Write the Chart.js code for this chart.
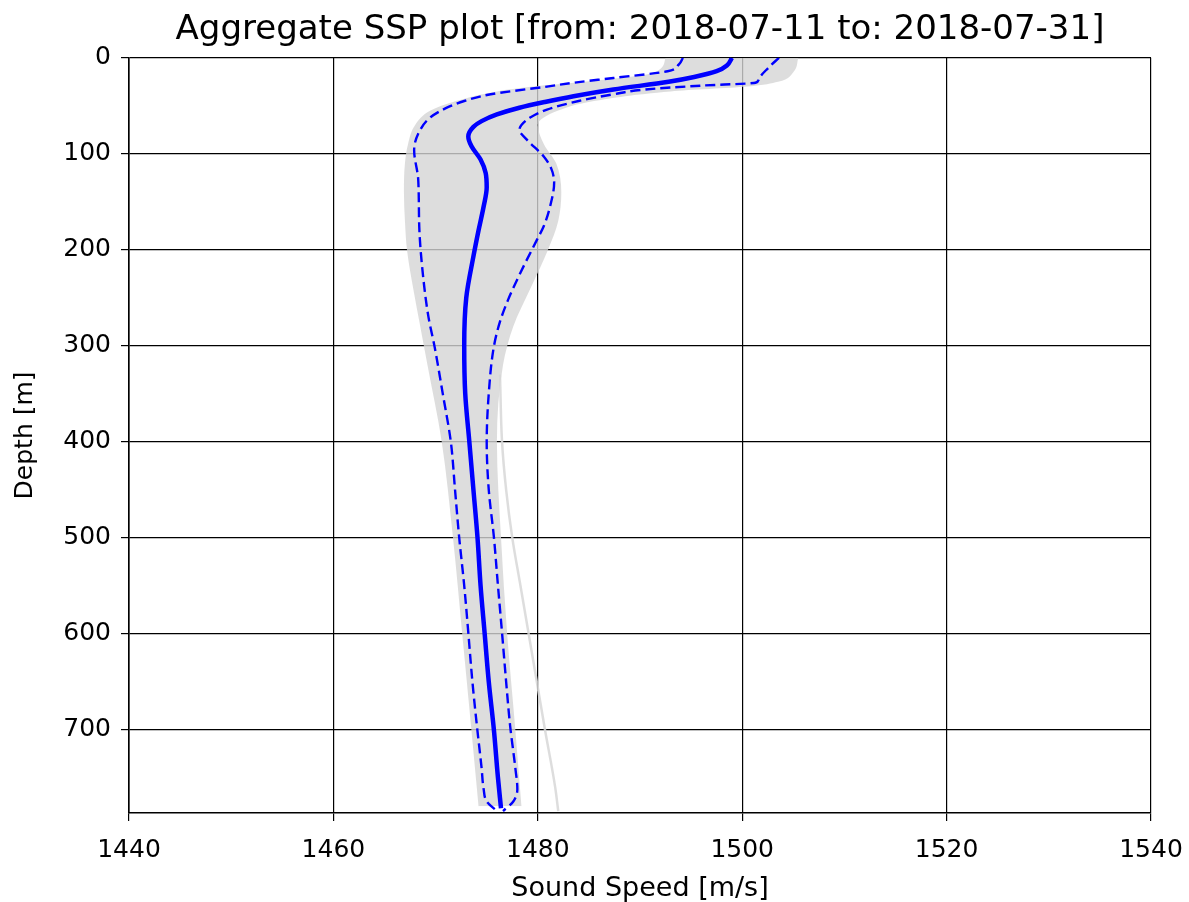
<!DOCTYPE html>
<html>
<head>
<meta charset="utf-8">
<script src="https://cdn.jsdelivr.net/npm/chart.js@4/dist/chart.umd.min.js"></script>
<style>
  html, body { margin: 0; padding: 0; background: #fff; }
  #wrap { width: 1189px; height: 902px; }
</style>
</head>
<body>
<div id="wrap"><canvas id="ssp"></canvas></div>
<script>
// Mean profile (solid)
const meanDepth = [0, 8, 14, 20, 25, 33, 40, 46, 52, 59, 66, 72, 82, 92, 106, 120, 135, 155, 180, 207, 250, 300, 350, 400, 450, 500, 550, 600, 650, 700, 750, 782];
const meanSpeed = [1499.0, 1498.5, 1497.5, 1495.3, 1492.8, 1487.4, 1483.5, 1480.7, 1478.2, 1476.0, 1474.5, 1473.7, 1473.2, 1473.5, 1474.4, 1474.9, 1475.0, 1474.7, 1474.2, 1473.7, 1473.0, 1472.8, 1472.9, 1473.3, 1473.7, 1474.1, 1474.4, 1474.8, 1475.2, 1475.7, 1476.1, 1476.4];

// Lower bound (dashed, left)
const lowDepth = [0, 7, 14, 21, 26, 30, 38, 45, 52, 62, 75, 96, 127, 176, 230, 270, 301, 350, 401, 450, 499, 550, 599, 650, 697, 740, 762, 775, 785];
const lowSpeed = [1494.2, 1493.8, 1492.7, 1487.4, 1483.5, 1480.9, 1475.4, 1472.8, 1471.1, 1469.5, 1468.5, 1467.9, 1468.3, 1468.4, 1468.8, 1469.3, 1469.9, 1470.7, 1471.5, 1471.9, 1472.3, 1472.8, 1473.2, 1473.6, 1474.05, 1474.5, 1474.7, 1475.0, 1476.0];

// Upper bound (dashed, right)
const highDepth = [0, 10, 23, 26, 29, 33, 38, 45, 54, 62, 70, 75, 85, 103, 115, 130, 155, 175, 190, 224, 252, 275, 301, 350, 401, 450, 499, 550, 599, 650, 697, 740, 762, 775, 785];
const highSpeed = [1503.6, 1502.6, 1501.6, 1501.3, 1496.0, 1490.5, 1487.4, 1484.0, 1480.9, 1479.3, 1478.4, 1478.2, 1478.9, 1480.6, 1481.3, 1481.6, 1481.2, 1480.6, 1479.9, 1478.3, 1477.1, 1476.3, 1475.7, 1475.2, 1475.0, 1475.2, 1475.7, 1476.1, 1476.5, 1476.9, 1477.3, 1477.8, 1478.0, 1477.6, 1476.6];

// Envelope of all casts (gray band)
const envDepth = [0, 15, 25, 30, 35, 45, 55, 70, 90, 110, 140, 170, 200, 240, 280, 320, 400, 500, 600, 700, 780];
const envMin = [1492.5, 1491.5, 1484.5, 1479.5, 1476.0, 1472.0, 1469.5, 1468.0, 1467.3, 1467.0, 1466.9, 1467.0, 1467.2, 1467.8, 1468.5, 1469.2, 1470.6, 1471.7, 1472.6, 1473.5, 1474.2];
const envMax = [1505.5, 1505.0, 1503.5, 1500.5, 1493.0, 1485.5, 1482.0, 1480.0, 1480.6, 1481.8, 1482.3, 1482.0, 1481.0, 1479.3, 1477.6, 1476.6, 1476.0, 1476.4, 1477.0, 1477.8, 1478.4];

// Outlier cast visible below the band
const outDepth = [330, 400, 450, 500, 550, 600, 650, 700, 760, 785];
const outSpeed = [1476.3, 1476.5, 1476.9, 1477.5, 1478.3, 1479.1, 1479.9, 1480.7, 1481.7, 1482.0];

// Axis ticks
const speedTicks = [1440, 1460, 1480, 1500, 1520, 1540];
const depthTicks = [0, 100, 200, 300, 400, 500, 600, 700];

const pts = (speeds, depths) => depths.map((d, i) => ({ x: speeds[i], y: d }));

const FONT = 'DejaVu Sans';

// keep the title centred over the plot area, like matplotlib does
const centerTitle = {
    id: 'centerTitle',
    afterLayout(chart) {
        const t = chart.titleBlock;
        if (!t) return;
        t.left = chart.chartArea.left;
        t.right = chart.chartArea.right;
        t.width = t.right - t.left;
    }
};

function profile(label, speeds, depths, extra) {
    return Object.assign({
        label: label,
        data: pts(speeds, depths),
        fill: false,
        pointRadius: 0,
        cubicInterpolationMode: 'monotone'
    }, extra);
}

new Chart(document.getElementById('ssp'), {
    type: 'line',
    data: {
        datasets: [
            profile('max', envMax, envDepth, { borderWidth: 0, borderColor: 'rgba(0,0,0,0)', backgroundColor: 'rgba(212,212,212,0.8)', fill: '+1', order: 10 }),
            profile('min', envMin, envDepth, { borderWidth: 0, borderColor: 'rgba(0,0,0,0)', order: 9 }),
            profile('outlier', outSpeed, outDepth, { borderWidth: 2.5, borderColor: 'rgba(215,215,215,0.85)', order: 8 }),
            profile('low', lowSpeed, lowDepth, { borderWidth: 2.4, borderColor: '#0000ff', borderDash: [10, 5], order: 3 }),
            profile('high', highSpeed, highDepth, { borderWidth: 2.4, borderColor: '#0000ff', borderDash: [10, 5], order: 2 }),
            profile('mean', meanSpeed, meanDepth, { borderWidth: 4.5, borderColor: '#0000ff', order: 1 })
        ]
    },
    plugins: [centerTitle],
    options: {
        indexAxis: 'y',
        responsive: true,
        maintainAspectRatio: false,
        animation: false,
        layout: { padding: { top: 4, right: 38, bottom: 0, left: 8 } },
        plugins: {
            legend: { display: false },
            tooltip: { enabled: false },
            title: {
                display: true,
                text: 'Aggregate SSP plot [from: 2018-07-11 to: 2018-07-31]',
                color: '#000',
                font: { family: FONT, size: 34, weight: 'normal' },
                padding: { top: 6, bottom: 7 }
            }
        },
        scales: {
            x: {
                type: 'linear',
                position: 'bottom',
                min: 1440,
                max: 1540,
                afterBuildTicks: s => { s.ticks = speedTicks.map(v => ({ value: v })); },
                afterFit: s => { s.height = 89; s.paddingLeft = 0; s.paddingRight = 0; },
                ticks: { color: '#000', font: { family: FONT, size: 25 }, padding: 14, maxRotation: 0, callback: v => String(v) },
                grid: { color: '#000', lineWidth: 1.2, tickLength: 8 },
                border: { color: '#000', width: 1.6 },
                title: {
                    display: true,
                    text: 'Sound Speed [m/s]',
                    color: '#000',
                    font: { family: FONT, size: 27 },
                    padding: { top: 0, bottom: -3 }
                }
            },
            y: {
                type: 'linear',
                reverse: true,
                min: 0,
                max: 787,
                afterBuildTicks: s => { s.ticks = depthTicks.map(v => ({ value: v })); },
                afterFit: s => { s.width = 121; s.paddingTop = 0; s.paddingBottom = 0; },
                ticks: { color: '#000', font: { family: FONT, size: 25 }, padding: 10, callback: v => String(v) },
                grid: { color: '#000', lineWidth: 1.2, tickLength: 8 },
                border: { color: '#000', width: 1.6 },
                title: {
                    display: true,
                    text: 'Depth [m]',
                    color: '#000',
                    font: { family: FONT, size: 25 },
                    padding: { top: 2, bottom: 0 }
                }
            }
        }
    }
});
</script>
</body>
</html>
